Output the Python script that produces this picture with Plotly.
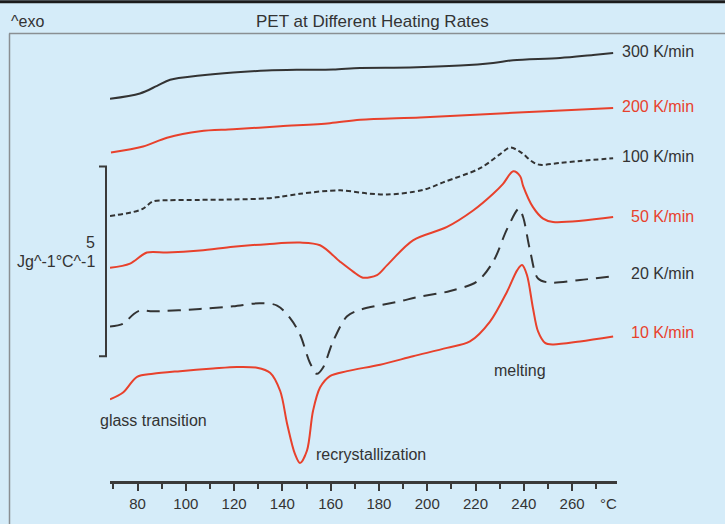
import plotly.graph_objects as go

BG = "#d5ecf9"
RED = "#e8412c"
DARK = "#333333"
FONT = "Liberation Sans, Arial, sans-serif"

# temperature in °C, heat flow in J g^-1 °C^-1 (curves stacked as in the plot)
t_300 = [68.6, 81.0, 88.1, 93.5, 105.9, 119.6, 133.6, 147.3, 161.0, 172.2,
         192.9, 213.6, 227.3, 235.6, 255.0, 268.7, 277.0]
hf_300 = [10.02, 10.16, 10.36, 10.52, 10.63, 10.71, 10.76, 10.78, 10.79, 10.83,
          10.84, 10.89, 10.96, 11.03, 11.09, 11.17, 11.22]

t_200 = [69.0, 82.3, 92.2, 105.9, 119.6, 139.1, 159.7, 172.2, 197.0, 221.9, 246.7, 277.0]
hf_200 = [8.61, 8.77, 9.00, 9.17, 9.22, 9.30, 9.38, 9.47, 9.53, 9.61, 9.69, 9.78]

t_100 = [68.6, 78.1, 82.3, 86.4, 92.2, 105.9, 119.6, 133.6, 139.1, 147.3, 163.9,
         175.1, 183.4, 198.3, 206.6, 221.9, 230.2, 234.3, 238.5, 243.8, 246.7,
         255.0, 263.3, 277.0]
hf_100 = [6.95, 7.05, 7.14, 7.33, 7.36, 7.37, 7.38, 7.41, 7.45, 7.53, 7.62,
          7.54, 7.51, 7.63, 7.83, 8.20, 8.57, 8.74, 8.63, 8.36, 8.29,
          8.34, 8.39, 8.46]

t_50 = [68.6, 76.9, 83.9, 92.2, 105.9, 119.6, 133.6, 147.3, 155.6, 163.9, 169.3,
        173.4, 179.2, 183.4, 194.1, 208.2, 219.0, 227.3, 231.4, 235.6, 238.5,
        239.7, 243.8, 248.0, 252.1, 277.0]
hf_50 = [5.59, 5.70, 5.99, 5.99, 6.04, 6.14, 6.21, 6.25, 6.18, 5.75, 5.49,
         5.33, 5.40, 5.66, 6.31, 6.66, 7.09, 7.53, 7.79, 8.12, 7.99,
         7.74, 7.18, 6.88, 6.79, 6.92]

t_20 = [68.6, 74.0, 78.1, 81.0, 86.4, 105.9, 119.6, 130.7, 137.8, 143.2, 147.3,
        151.4, 154.3, 156.8, 161.0, 166.8, 172.2, 188.7, 195.8, 209.5, 220.6,
        227.3, 233.1, 238.0, 239.7, 242.6, 245.9, 250.9, 263.3, 277.0]
hf_20 = [4.05, 4.12, 4.36, 4.47, 4.45, 4.51, 4.58, 4.66, 4.60, 4.27, 3.84,
         3.10, 2.81, 2.97, 3.66, 4.32, 4.49, 4.71, 4.82, 4.98, 5.23,
         5.75, 6.61, 7.14, 6.92, 6.04, 5.31, 5.20, 5.27, 5.37]

t_10 = [68.6, 74.0, 79.8, 86.4, 97.6, 111.3, 121.2, 129.5, 134.9, 139.1, 142.0,
        145.2, 147.3, 150.2, 152.7, 155.6, 159.7, 166.8, 180.5, 194.1, 208.2,
        217.7, 226.0, 233.1, 237.3, 239.3, 241.3, 243.8, 245.9, 248.8, 252.1,
        263.3, 277.0]
hf_10 = [2.14, 2.32, 2.73, 2.81, 2.88, 2.95, 2.99, 2.97, 2.84, 2.36, 1.49,
         0.71, 0.47, 0.80, 1.84, 2.45, 2.75, 2.88, 3.05, 3.27, 3.49,
         3.66, 4.18, 4.97, 5.53, 5.66, 5.40, 4.53, 3.92, 3.62, 3.58,
         3.66, 3.79]

rates = ["300 K/min", "200 K/min", "100 K/min", "50 K/min", "20 K/min", "10 K/min"]


def px(x):
    # pixel column -> paper x (plot area spans 110..617)
    return (x - 110) / 507


def py(y):
    # pixel row -> paper y (plot area spans 33..484)
    return (484 - y) / 451


curves = [
    (t_300, hf_300, DARK, "solid"),
    (t_200, hf_200, RED, "solid"),
    (t_100, hf_100, DARK, "5px,3px"),
    (t_50, hf_50, RED, "solid"),
    (t_20, hf_20, DARK, "13px,8px"),
    (t_10, hf_10, RED, "solid"),
]

fig = go.Figure()
for (t, hf, color, dash), name in zip(curves, rates):
    fig.add_trace(go.Scatter(
        x=t, y=hf, mode="lines", name=name,
        line=dict(color=color, width=2, dash=dash, shape="spline", smoothing=0.9),
    ))

# curve labels on the right, right-aligned
label_rows = [51.7, 107.3, 157.7, 217.7, 274.7, 335.0]
annotations = []
for (t, hf, color, dash), name, row in zip(curves, rates, label_rows):
    annotations.append(dict(
        x=px(696), y=py(row), xref="paper", yref="paper", text=name,
        xanchor="right", yanchor="middle", showarrow=False,
        font=dict(size=16, color=color),
    ))

notes = [
    ("^exo", 9, 21, "left", 16),
    ("PET at Different Heating Rates", 372, 21, "center", 17),
    ("glass transition", 98, 423, "left", 16),
    ("recrystallization", 314, 457, "left", 16),
    ("melting", 492, 373, "left", 16),
    ("5", 97, 244, "right", 16),
    ("Jg^-1°C^-1", 97, 263, "right", 16),
    ("°C", 608, 507, "center", 15),
]
for text, x, y, anchor, size in notes:
    annotations.append(dict(
        x=px(x), y=py(y), xref="paper", yref="paper", text=text,
        xanchor=anchor, yanchor="middle", showarrow=False,
        font=dict(size=size, color=DARK),
    ))

shapes = [
    # dark strip at the top edge
    dict(type="line", x0=px(0), x1=px(725), y0=py(1.5), y1=py(1.5),
         line=dict(color="#1c1c1c", width=3), xref="paper", yref="paper"),
    # frame lines
    dict(type="line", x0=px(9), x1=px(735), y0=py(33.5), y1=py(33.5),
         line=dict(color="#8a8f93", width=1.5), xref="paper", yref="paper"),
    dict(type="line", x0=px(9.5), x1=px(9.5), y0=py(33.5), y1=py(530),
         line=dict(color="#8a8f93", width=1.5), xref="paper", yref="paper"),
    # 5 J/g/°C scale bracket
    dict(type="path",
         path=f"M {px(99)},{py(167.5)} L {px(106)},{py(167.5)} "
              f"L {px(106)},{py(358.5)} L {px(99)},{py(358.5)}",
         line=dict(color="#3a3a3a", width=2), xref="paper", yref="paper"),
]

fig.update_layout(
    width=725, height=524,
    margin=dict(l=110, r=108, t=33, b=40),
    paper_bgcolor=BG, plot_bgcolor=BG,
    showlegend=False,
    font=dict(family=FONT, color=DARK),
    annotations=annotations,
    shapes=shapes,
    xaxis=dict(
        range=[68.6, 278.6], showgrid=False, zeroline=False,
        showline=True, linecolor="#3a3a3a", linewidth=2.5,
        ticks="outside", ticklen=7, tickwidth=1.5, tickcolor="#3a3a3a",
        tickvals=list(range(80, 261, 20)),
        tickfont=dict(size=15, color=DARK, family=FONT),
        minor=dict(dtick=10, tick0=70, ticks="outside", ticklen=5,
                   tickwidth=1.5, tickcolor="#3a3a3a", showgrid=False),
    ),
    yaxis=dict(range=[0, 11.745], visible=False, fixedrange=True),
)

# drop the default page margin so the figure sits at the window's top-left
fig.write_html("out.html", config={"displayModeBar": False},
               post_script="document.body.style.margin='0';")
